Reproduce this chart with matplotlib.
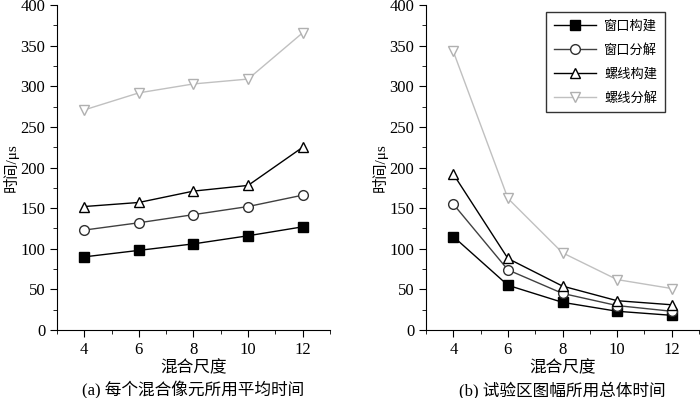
import matplotlib
matplotlib.use("Agg")
import matplotlib.pyplot as plt
from matplotlib.ticker import MultipleLocator

plt.rcParams["font.family"] = ["Liberation Serif", "Noto Sans CJK SC"]

# ── Data ─────────────────────────────────────────────
scales = [4, 6, 8, 10, 12]
names = ["窗口构建", "窗口分解", "螺线构建", "螺线分解"]

avg_win_build = [90, 98, 106, 116, 127]
avg_win_decomp = [123, 132, 142, 152, 166]
avg_spi_build = [152, 157, 171, 178, 225]
avg_spi_decomp = [271, 292, 303, 309, 366]

tot_win_build = [115, 55, 34, 23, 18]
tot_win_decomp = [155, 74, 45, 30, 23]
tot_spi_build = [192, 88, 54, 36, 31]
tot_spi_decomp = [343, 162, 95, 62, 51]

styles = [
    dict(color="black", marker="s", mfc="black", mec="black"),
    dict(color="#404040", marker="o", mfc="white", mec="#303030"),
    dict(color="black", marker="^", mfc="white", mec="black"),
    dict(color="#c0c0c0", marker="v", mfc="white", mec="#b0b0b0"),
]

fig = plt.figure(figsize=(7.0, 3.98), dpi=100)
ax1 = fig.add_axes([0.0814, 0.171, 0.39, 0.816])
ax2 = fig.add_axes([0.6086, 0.171, 0.39, 0.816])

panels = [
    (ax1, [avg_win_build, avg_win_decomp, avg_spi_build, avg_spi_decomp],
     "(a) 每个混合像元所用平均时间"),
    (ax2, [tot_win_build, tot_win_decomp, tot_spi_build, tot_spi_decomp],
     "(b) 试验区图幅所用总体时间"),
]

for ax, series, caption in panels:
    for vals, name, st in zip(series, names, styles):
        ax.plot(scales, vals, lw=1.0, ms=7, mew=1.0, label=name, **st)
    ax.set_xlim(3, 13)
    ax.set_ylim(0, 400)
    ax.xaxis.set_major_locator(MultipleLocator(2))
    ax.xaxis.set_minor_locator(MultipleLocator(1))
    ax.yaxis.set_major_locator(MultipleLocator(50))
    ax.yaxis.set_minor_locator(MultipleLocator(25))
    ax.set_xticks([4, 6, 8, 10, 12])
    ax.spines["top"].set_visible(False)
    ax.spines["right"].set_visible(False)
    ax.tick_params(which="major", direction="out", length=5, labelsize=12)
    ax.tick_params(which="minor", direction="out", length=3)
    ax.set_xlabel("混合尺度", fontsize=12, labelpad=2)
    ax.set_ylabel("时间/μs", fontsize=11, labelpad=1)
    ax.text(0.5, -0.185, caption, transform=ax.transAxes,
            ha="center", va="center", fontsize=12)

leg = ax2.legend(loc="upper right", bbox_to_anchor=(0.875, 0.978),
                 fontsize=9.5, frameon=True, fancybox=False,
                 edgecolor="black", handlelength=3.2, handletextpad=0.6,
                 borderpad=0.6, labelspacing=0.85, borderaxespad=0)
leg.get_frame().set_linewidth(1.0)

fig.savefig("out.png", dpi=100)
